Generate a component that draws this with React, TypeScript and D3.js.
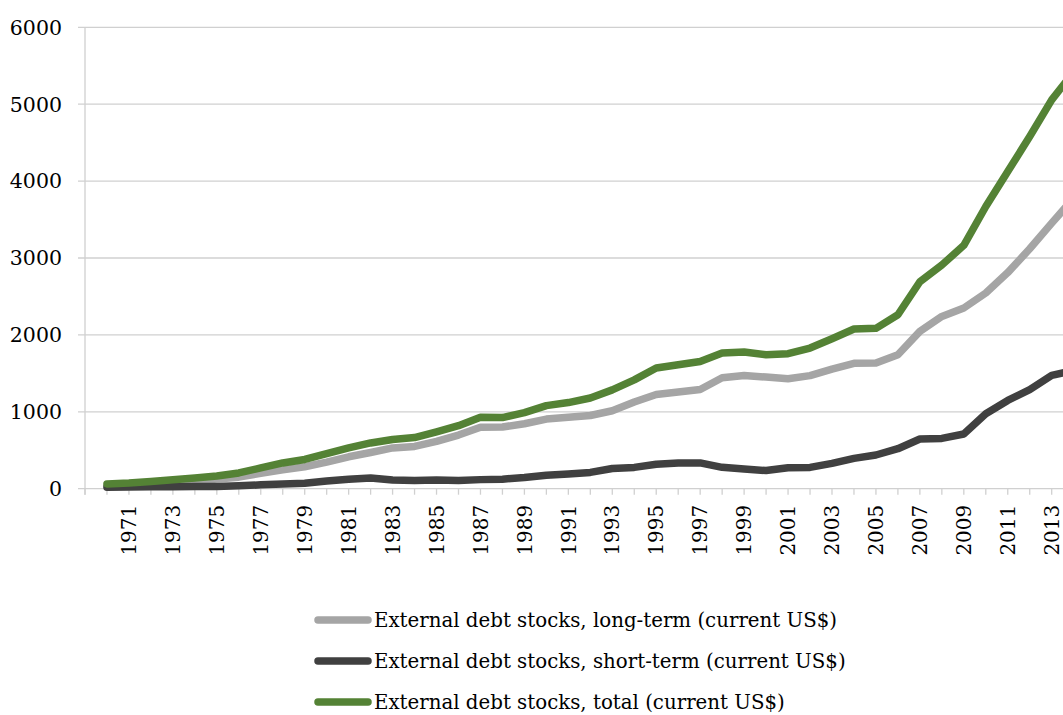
import React from "react";
import * as d3 from "d3";

const years: number[] = [
  1970, 1971, 1972, 1973, 1974, 1975, 1976, 1977, 1978, 1979,
  1980, 1981, 1982, 1983, 1984, 1985, 1986, 1987, 1988, 1989,
  1990, 1991, 1992, 1993, 1994, 1995, 1996, 1997, 1998, 1999,
  2000, 2001, 2002, 2003, 2004, 2005, 2006, 2007, 2008, 2009,
  2010, 2011, 2012, 2013, 2014,
];

const longTerm: number[] = [
  35, 45, 60, 80, 100, 125, 150, 200, 245, 285,
  345, 415, 470, 530, 550, 615, 698, 800, 802, 845,
  905, 930, 952, 1014, 1127, 1226, 1257, 1290, 1443, 1473,
  1452, 1430, 1470, 1555, 1630, 1634, 1742, 2045, 2240, 2350,
  2545, 2810, 3120, 3454, 3780,
];

const shortTerm: number[] = [
  20, 22, 24, 26, 28, 30, 38, 50, 62, 72,
  100, 122, 140, 113, 108, 112, 106, 118, 124, 145,
  175, 192, 212, 262, 277, 318, 333, 335, 278, 256,
  236, 272, 277, 329, 394, 438, 520, 646, 654, 711,
  975, 1148, 1287, 1473, 1540,
];

const total: number[] = [
  62, 75, 95, 117, 138, 165, 205, 270, 335, 380,
  455, 530, 595, 640, 665, 740, 820, 930, 925, 990,
  1080, 1120, 1180, 1285, 1415, 1570, 1612, 1655, 1764, 1777,
  1742, 1755, 1829, 1950, 2076, 2085, 2262, 2691, 2908, 3165,
  3670, 4125, 4580, 5057, 5420,
];

const yTicks: number[] = [0, 1000, 2000, 3000, 4000, 5000, 6000];
const tickYears: number[] = d3.range(1969, 2015);
const labelYears: number[] = d3.range(1971, 2014, 2);

const seriesNames: string[] = [
  "External debt stocks, long-term (current US$)",
  "External debt stocks, short-term (current US$)",
  "External debt stocks, total (current US$)",
];
const seriesColors: string[] = ["#A5A5A5", "#404040", "#548235"];
const seriesValues: number[][] = [longTerm, shortTerm, total];

const W = 1063;
const H = 715;
const FONT = "'DejaVu Serif', serif";

export default function App() {
  const x = d3.scaleLinear().domain([1969, 2013]).range([85, 1051.7]);
  const y = d3.scaleLinear().domain([0, 6000]).range([488.7, 27.3]);

  const line = (vals: number[]) =>
    d3
      .line<number>()
      .x((_, i) => x(years[i]))
      .y((v) => y(v))(vals) || "";

  const x0 = x(1969);

  return (
    <svg
      width={W}
      height={H}
      style={{ position: "absolute", left: 0, top: 0, background: "#fff" }}
      fontFamily={FONT}
    >
      {yTicks.map((t) => (
        <line
          key={"g" + t}
          x1={x0 - 7}
          x2={W}
          y1={y(t)}
          y2={y(t)}
          stroke="#D0D0D0"
          strokeWidth={1.3}
        />
      ))}
      <line x1={x0} x2={x0} y1={y(6000)} y2={y(0) + 6} stroke="#D0D0D0" strokeWidth={1.3} />
      {tickYears.map((yr) => (
        <line
          key={"t" + yr}
          x1={x(yr)}
          x2={x(yr)}
          y1={y(0)}
          y2={y(0) + 6}
          stroke="#D0D0D0"
          strokeWidth={1.3}
        />
      ))}
      {yTicks.map((t) => (
        <text
          key={"yl" + t}
          x={62}
          y={y(t)}
          dy="0.36em"
          textAnchor="end"
          fontSize={20.5}
          fill="#000"
        >
          {t}
        </text>
      ))}
      {labelYears.map((yr) => (
        <text
          key={"xl" + yr}
          transform={`translate(${x(yr)},${y(0) + 16}) rotate(-90)`}
          dy="0.36em"
          textAnchor="end"
          fontSize={20}
          fill="#000"
        >
          {yr}
        </text>
      ))}
      {seriesValues.map((vals, i) => (
        <path
          key={"s" + i}
          d={line(vals)}
          fill="none"
          stroke={seriesColors[i]}
          strokeWidth={7.5}
          strokeLinejoin="round"
          strokeLinecap="round"
        />
      ))}
      {seriesNames.map((name, i) => {
        const ly = 620 + i * 41;
        return (
          <g key={"lg" + i}>
            <line
              x1={318}
              x2={368}
              y1={ly}
              y2={ly}
              stroke={seriesColors[i]}
              strokeWidth={7.5}
              strokeLinecap="round"
            />
            <text x={374} y={ly} dy="0.36em" fontSize={19.8} fill="#000">
              {name}
            </text>
          </g>
        );
      })}
    </svg>
  );
}
